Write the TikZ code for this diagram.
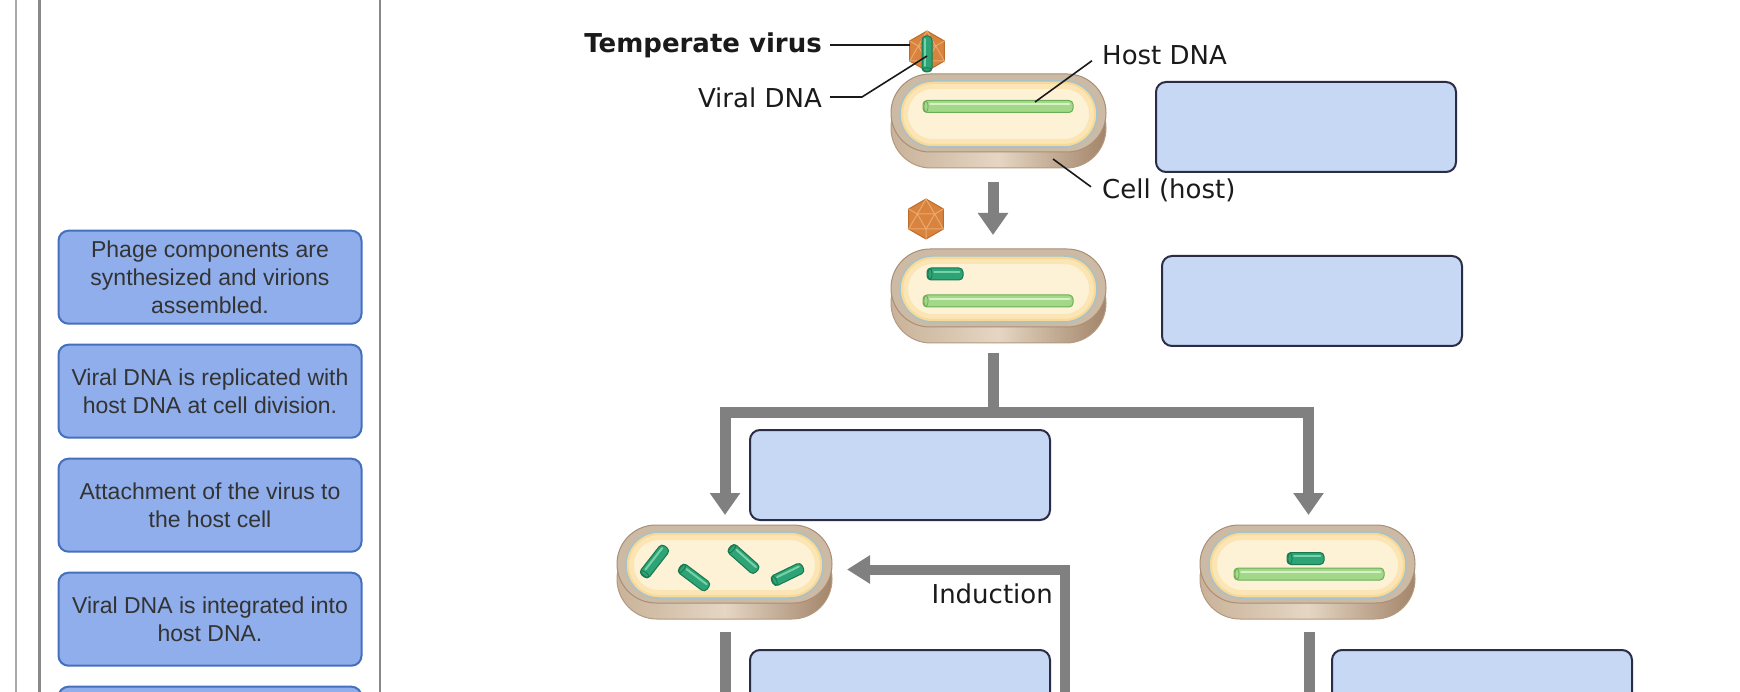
\documentclass[tikz,border=0pt]{standalone}
\usepackage{fontspec}
\setmainfont{Liberation Sans}
\newfontfamily\lblfont{DejaVu Sans}
\usetikzlibrary{arrows.meta}
\definecolor{arrowgray}{HTML}{808080}
\definecolor{panelL}{HTML}{AAAAAA}
\definecolor{panelD}{HTML}{888888}
\definecolor{srcfill}{HTML}{8FAEEB}
\definecolor{srcdraw}{HTML}{4470BE}
\definecolor{ansfill}{HTML}{C6D8F4}
\definecolor{ansdraw}{HTML}{2A2D45}
\definecolor{txtgray}{HTML}{333333}
\definecolor{bandL}{HTML}{C9B299}
\definecolor{bandM}{HTML}{E5D6C3}
\definecolor{bandR}{HTML}{A3856A}
\definecolor{bandline}{HTML}{B39A80}
\definecolor{rimfill}{HTML}{CDBAA5}
\definecolor{rimline}{HTML}{A88F76}
\definecolor{cytofill}{HTML}{FEF2D6}
\definecolor{cytoglow}{HTML}{F9D995}
\definecolor{membrane}{HTML}{A6C2CA}
\definecolor{hostfill}{HTML}{A3D889}
\definecolor{hostdraw}{HTML}{6CAD57}
\definecolor{hosthi}{HTML}{D6F1C6}
\definecolor{virfill}{HTML}{2EA375}
\definecolor{virdraw}{HTML}{17784F}
\definecolor{virhi}{HTML}{74D3A8}
\definecolor{capfill}{HTML}{D8843F}
\definecolor{capedge}{HTML}{BE6C2C}
\definecolor{capfacet}{HTML}{EBA86B}
\definecolor{leader}{HTML}{1A1A1A}
\tikzset{
  srcbox/.style={draw=srcdraw, fill=srcfill, line width=2pt, rounded corners=10pt,
    minimum width=303pt, minimum height=93pt, align=center, text=txtgray,
    font=\fontsize{23}{28.3}\selectfont, inner sep=0pt},
  ansbox/.style={draw=ansdraw, fill=ansfill, line width=2pt, rounded corners=10pt,
    minimum width=300pt, minimum height=90pt, inner sep=0pt},
  lbl/.style={inner sep=0pt, text=leader, font=\lblfont\fontsize{26}{31}\selectfont},
  lblbold/.style={inner sep=0pt, text=leader, font=\lblfont\bfseries\fontsize{26}{31}\selectfont},
  leaderline/.style={draw=leader, line width=1.6pt},
  grayline/.style={draw=arrowgray, line width=11pt},
  grayarrow/.style={grayline, -{Triangle[width=29pt,length=22pt]}},
  pics/cellbody/.style={code={
    \draw[bandline, line width=1pt, left color=bandL, right color=bandR, middle color=bandM,
      rounded corners=39.9pt] (0,14) rectangle (215,94);
    \filldraw[fill=rimfill, draw=rimline, line width=1pt, rounded corners=38.9pt] (0,0) rectangle (215,78);
    \fill[cytofill, rounded corners=32.9pt] (9,7) rectangle (206,73);
    \begin{scope}
      \clip[rounded corners=32.9pt] (9,7) rectangle (206,73);
      \draw[cytoglow, line width=16pt, opacity=0.5, rounded corners=32.9pt] (9,7) rectangle (206,73);
      \draw[cytoglow, line width=6pt, rounded corners=32.9pt] (9,7) rectangle (206,73);
    \end{scope}
    \draw[membrane, line width=1.5pt, rounded corners=32.9pt] (9,7) rectangle (206,73);
  }},
  pics/rod/.style n args={5}{code={
    \filldraw[fill=#2, draw=#3, line width=1pt, rounded corners=4pt] ({-#1/2},{-#5}) rectangle ({#1/2},{#5});
    \draw[#4, line width=2pt, line cap=round] ({-#1/2+#5+1},{-#5*0.4}) -- ({#1/2-#5*0.6},{-#5*0.4});
    \draw[#3, line width=0.8pt] ({-#1/2+#5*0.5},0) ellipse [x radius={#5*0.35}, y radius={#5*0.9}];
  }},
  pics/capsid/.style={code={
    \filldraw[fill=capfill, draw=capedge, line width=1pt, line join=round]
      (90:20) -- (150:20) -- (210:20) -- (270:20) -- (330:20) -- (30:20) -- cycle;
    \draw[capfacet, line width=1pt, line join=round]
      (90:10) -- (210:10) -- (330:10) -- cycle
      (30:20) -- (90:10) -- (150:20) (90:10) -- (90:20)
      (150:20) -- (210:10) -- (270:20) (210:10) -- (210:20)
      (270:20) -- (330:10) -- (30:20) (330:10) -- (330:20);
  }},
}
\begin{document}
\begin{tikzpicture}[x=1pt,y=-1pt]
\useasboundingbox (0,0) rectangle (1740,692);
\clip (0,0) rectangle (1740,692);
\fill[white] (0,0) rectangle (1740,692);

% panel rules
\draw[panelL, line width=1.8pt] (16,0) -- (16,692);
\draw[panelD, line width=2.7pt] (39.3,0) -- (39.3,692);
\draw[panelD, line width=1.8pt] (379.8,0) -- (379.8,692);

% answer choices
\node[srcbox] (s1) at (210,277.2) {Phage components are\\synthesized and virions\\assembled.};
\node[srcbox] (s2) at (210,391.2) {Viral DNA is replicated with\\host DNA at cell division.};
\node[srcbox] (s3) at (210,505.2) {Attachment of the virus to\\the host cell};
\node[srcbox] (s4) at (210,619.2) {Viral DNA is integrated into\\host DNA.};
\node[srcbox] (s5) at (210,733.2) {};

% cells
\coordinate (c1) at (891,74);
\coordinate (c2) at (891,249);
\coordinate (c3) at (617,525);
\coordinate (c4) at (1200,525);
\pic at (c1) {cellbody};
\pic at (c2) {cellbody};
\pic at (c3) {cellbody};
\pic at (c4) {cellbody};

% DNA in cells
\pic at (998,106.5) {rod={150}{hostfill}{hostdraw}{hosthi}{6}};
\pic at (945,274) {rod={36}{virfill}{virdraw}{virhi}{6}};
\pic at (998,301) {rod={150}{hostfill}{hostdraw}{hosthi}{6}};
\pic[rotate=52] at (654.5,561.5) {rod={37}{virfill}{virdraw}{virhi}{5.5}};
\pic[rotate=-37] at (694,577.5) {rod={35}{virfill}{virdraw}{virhi}{5.5}};
\pic[rotate=-41.6] at (743.5,559) {rod={36}{virfill}{virdraw}{virhi}{5.5}};
\pic[rotate=25.8] at (787.5,574.5) {rod={34}{virfill}{virdraw}{virhi}{5.5}};
\pic at (1305.5,558.5) {rod={37}{virfill}{virdraw}{virhi}{6}};
\pic at (1309,574) {rod={150}{hostfill}{hostdraw}{hosthi}{6}};

% viruses
\pic at (927,51) {capsid};
\pic[rotate=90] at (927,54) {rod={36}{virfill}{virdraw}{virhi}{5}};
\pic at (926,219) {capsid};

% labels
\node[lblbold, anchor=base east] (tv) at (822,53) {Temperate virus};
\node[lbl, anchor=base east] (vd) at (822,108) {Viral DNA};
\node[lbl, anchor=base west] (hd) at (1102,65) {Host DNA};
\node[lbl, anchor=base west] (ch) at (1102,199) {Cell (host)};
\node[lbl, anchor=base east] (ind) at (1053,603) {Induction};

\coordinate (tvend) at (910,45);
\coordinate (vdbend) at (862,97);
\coordinate (vdend) at (927,56);
\coordinate (hdend) at (1035,102);
\coordinate (chend) at (1053,159);
\draw[leaderline] ([xshift=8pt]tvend -| tv.east) -- (tvend);
\draw[leaderline] ([xshift=8pt]vdbend -| vd.east) -- (vdbend) -- (vdend);
\draw[leaderline] ([xshift=-10pt,yshift=-5pt]hd.west) -- (hdend);
\draw[leaderline] ([xshift=-11pt,yshift=4pt]ch.west) -- (chend);

% answer boxes
\node[ansbox] (b1) at (1306,127) {};
\node[ansbox] (b2) at (1312,301) {};
\node[ansbox] (b3) at (900,475) {};
\node[ansbox] (b4) at (900,695) {};
\node[ansbox] (b5) at (1482,695) {};

% flow arrows
\coordinate (a1a) at (993,182);
\coordinate (a1b) at (993,235);
\draw[grayarrow] (a1a) -- (a1b);

\coordinate (brtop) at (993,353);
\coordinate (brmid) at (993,412);
\coordinate (brL) at (725,515);
\coordinate (brR) at (1308.5,515);
\draw[grayline] (brtop) -- ([yshift=-5pt]brmid);
\draw[grayline, {Triangle[width=29pt,length=22pt]}-{Triangle[width=29pt,length=22pt]}]
  (brL) |- (brmid -| brR) -- (brR);

\coordinate (indbot) at (1065,700);
\coordinate (indtip) at (847,569.5);
\draw[draw=arrowgray, line width=10pt, -{Triangle[width=27pt,length=23pt]}] (indbot) |- (indtip);

\coordinate (l3top) at (725.5,632);
\coordinate (l3bot) at (725.5,700);
\coordinate (l4top) at (1309,632);
\coordinate (l4bot) at (1309,700);
\draw[grayline] (l3top) -- (l3bot);
\draw[grayline] (l4top) -- (l4bot);
\end{tikzpicture}
\end{document}
